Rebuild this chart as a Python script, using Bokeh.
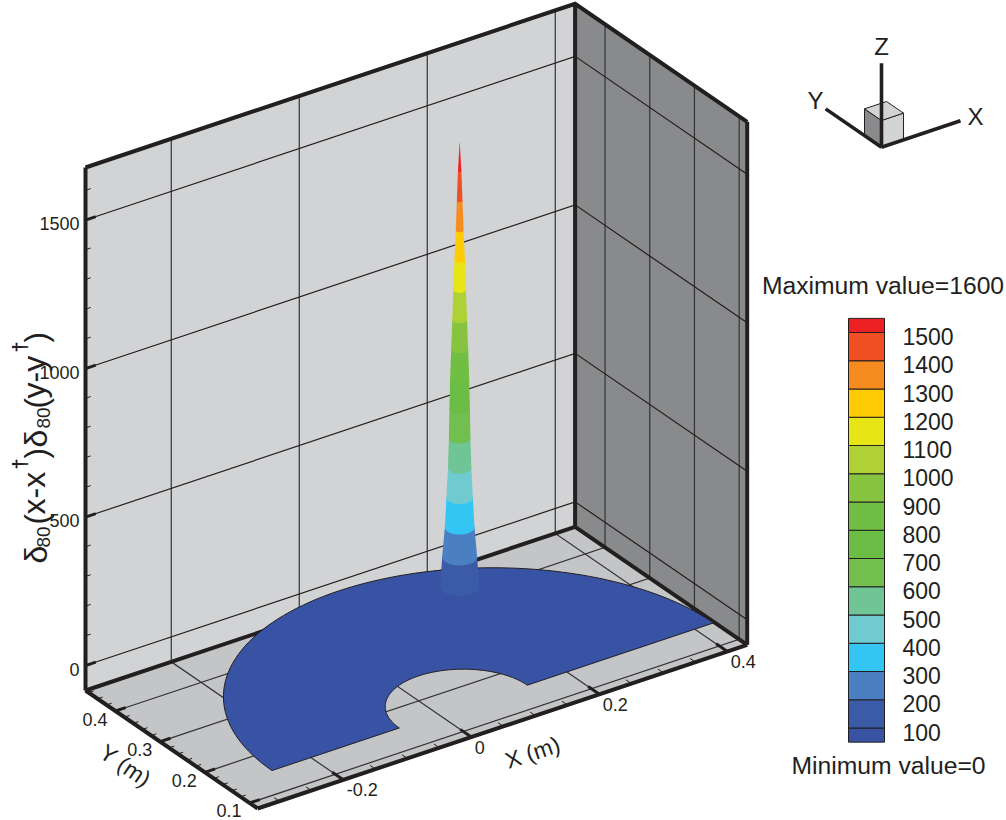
import math
from bokeh.plotting import figure
from bokeh.models import Range1d
from bokeh.core.properties import value
from bokeh.embed import file_html
from bokeh.resources import INLINE

# ---- axis ranges and ticks
x_lim = [-0.334, 0.431]
y_lim = [0.082, 0.467]
z_lim = [-84.0, 1677.0]
x_major = [-0.2, 0.0, 0.2, 0.4]
x_major_labels = ["-0.2", "0", "0.2", "0.4"]
x_minor = [-0.3, -0.25, -0.15, -0.1, -0.05, 0.05, 0.1, 0.15, 0.25, 0.3, 0.35]
y_major = [0.1, 0.2, 0.3, 0.4]
y_major_labels = ["0.1", "0.2", "0.3", "0.4"]
y_minor = [0.12, 0.14, 0.16, 0.18, 0.22, 0.24, 0.26, 0.28, 0.32, 0.34, 0.36, 0.38, 0.42, 0.44, 0.46]
z_major = [0, 500, 1000, 1500]
z_major_labels = ["0", "500", "1000", "1500"]
z_minor = [100, 200, 300, 400, 600, 700, 800, 900, 1100, 1200, 1300, 1400, 1600]

# ---- the half-annulus carrying the field
outer_centre = [0.046, 0.10]
outer_radius = 0.345
inner_centre = [0.0, 0.10]
inner_radius = 0.10

# ---- the peak: contour level and radius of that contour
peak_xy = [0.134, 0.30]
spike_level = [100, 200, 300, 400, 500, 600, 700, 800, 900, 1000, 1100, 1200, 1300, 1400, 1500, 1600]
spike_radius = [0.0250, 0.0224, 0.0190, 0.0169, 0.0150, 0.0138, 0.0131, 0.0122, 0.0109, 0.0094,
                0.0081, 0.0067, 0.0050, 0.0036, 0.0022, 0.0]

# ---- contour legend
legend_edges = [50, 100, 200, 300, 400, 500, 600, 700, 800, 900, 1000, 1100, 1200, 1300, 1400, 1500, 1550]
legend_colors = ["#3853a4", "#3b5ba7", "#4a7fc1", "#33c5f4", "#6fcbd0", "#70c597", "#72bf4f", "#6cbd45",
                 "#70bf44", "#86c440", "#afd136", "#e7e516", "#ffcb05", "#f68b1f", "#f04e23", "#ed2024"]
legend_labels = [100, 200, 300, 400, 500, 600, 700, 800, 900, 1000, 1100, 1200, 1300, 1400, 1500]
max_text = "Maximum value=1600"
min_text = "Minimum value=0"

INK = "#231f20"
FONT = value("Liberation Sans")

# ---- orthographic view of the 3D box on the page
ORIGIN = (85.0, 690.0)
EX = (640.0, -214.0)
EY = (447.0, 306.5)
EZ = 0.297


def proj(x, y, z):
    u, v = x - x_lim[0], y_lim[1] - y
    return (ORIGIN[0] + u * EX[0] + v * EY[0],
            ORIGIN[1] + u * EX[1] + v * EY[1] - (z - z_lim[0]) * EZ)


def pline(points):
    pts = [proj(*q) for q in points]
    return [a for a, _ in pts], [b for _, b in pts]


def hull(points):
    pts = sorted(set(points))

    def half(seq):
        out = []
        for q in seq:
            while len(out) > 1 and ((out[-1][0] - out[-2][0]) * (q[1] - out[-2][1])
                                    - (out[-1][1] - out[-2][1]) * (q[0] - out[-2][0])) <= 0:
                out.pop()
            out.append(q)
        return out[:-1]
    return half(pts) + half(pts[::-1])


W, H = 1006, 820
p = figure(width=W, height=H, x_range=Range1d(0, W), y_range=Range1d(H, 0),
           toolbar_location=None, output_backend="svg", min_border=0,
           x_axis_location=None, y_axis_location=None, outline_line_color=None)
p.grid.visible = False
p.background_fill_color = "white"
p.border_fill_color = "white"

x0, x1 = x_lim
y0, y1 = y_lim
z0, z1 = z_lim


def face(points, color):
    a, b = pline(points)
    p.patch(a, b, fill_color=color, line_color=None)


def seg(points, color=INK, width=1.2):
    a, b = pline(points)
    p.line(a, b, line_color=color, line_width=width, line_cap="butt", line_join="miter")


face([(x0, y1, z0), (x1, y1, z0), (x1, y1, z1), (x0, y1, z1)], "#d1d3d4")
face([(x1, y1, z0), (x1, y0, z0), (x1, y0, z1), (x1, y1, z1)], "#898a8c")
face([(x0, y1, z0), (x1, y1, z0), (x1, y0, z0), (x0, y0, z0)], "#c4c5c7")

# grid
for xv in x_major:
    seg([(xv, y0, z0), (xv, y1, z0), (xv, y1, z1)], "#333335", 1.2)
for yv in y_major:
    seg([(x0, yv, z0), (x1, yv, z0), (x1, yv, z1)], "#333335", 1.2)
for zv in z_major:
    seg([(x0, y1, zv), (x1, y1, zv), (x1, y0, zv)], INK, 1.2)

# ticks
for xv in x_major:
    seg([(xv, y0, z0), (xv, y0 + 0.025, z0)], INK, 3)
for xv in x_minor:
    seg([(xv, y0, z0), (xv, y0 + 0.012, z0)], INK, 1)
for yv in y_major:
    seg([(x0, yv, z0), (x0 + 0.016, yv, z0)], INK, 3)
for yv in y_minor:
    seg([(x0, yv, z0), (x0 + 0.008, yv, z0)], INK, 1)
for zv in z_major:
    seg([(x0, y1, zv), (x0 + 0.016, y1, zv)], INK, 3)
for zv in z_minor:
    seg([(x0, y1, zv), (x0 + 0.008, y1, zv)], INK, 1)

# box edges
for edge in ([(x0, y0, z0), (x1, y0, z0)], [(x0, y0, z0), (x0, y1, z0)],
             [(x0, y1, z0), (x1, y1, z0)], [(x1, y1, z0), (x1, y0, z0)],
             [(x0, y1, z0), (x0, y1, z1)], [(x1, y1, z0), (x1, y1, z1)],
             [(x1, y0, z0), (x1, y0, z1)], [(x0, y1, z1), (x1, y1, z1), (x1, y0, z1)]):
    seg(edge, INK, 4)

# half-annulus at z = 0
N = 90
ring = [(outer_centre[0] + outer_radius * math.cos(math.pi * i / N),
         outer_centre[1] + outer_radius * math.sin(math.pi * i / N), 0.0) for i in range(N + 1)]
ring += [(inner_centre[0] + inner_radius * math.cos(math.pi * (N - i) / N),
          inner_centre[1] + inner_radius * math.sin(math.pi * (N - i) / N), 0.0) for i in range(N + 1)]
a, b = pline(ring)
p.patch(a, b, fill_color=legend_colors[0], line_color=INK, line_width=1)

# peak, painted band by band from the bottom
for i in range(len(spike_level) - 1):
    pts = []
    for lev, rad in ((spike_level[i], spike_radius[i]), (spike_level[i + 1], spike_radius[i + 1])):
        for k in range(48):
            t = 2 * math.pi * k / 48
            pts.append(proj(peak_xy[0] + rad * math.cos(t), peak_xy[1] + rad * math.sin(t), lev))
    h = hull(pts)
    p.patch([q[0] for q in h], [q[1] for q in h], fill_color=legend_colors[i + 1], line_color=None)


def label(x, y, s, size, align="left", base="middle", angle=0.0, family=FONT, style="normal"):
    p.text([x], [y], text=[s], text_font=family, text_font_size=f"{size}px", text_color=INK,
           text_align=align, text_baseline=base, angle=angle, text_font_style=style)


# tick labels
for zv, s in zip(z_major, z_major_labels):
    sx, sy = proj(x0, y1, zv)
    label(sx - 6, sy + 3.5, s, 18, "right")
for xv, s in zip(x_major, x_major_labels):
    sx, sy = proj(xv, y0, z0)
    label(sx + 3.5, sy + 10, s, 18, "left")
for yv, s in zip(y_major, y_major_labels):
    sx, sy = proj(x0, yv, z0)
    label(sx - 8, sy + 8, s, 18, "right")

# axis titles
ang_x = math.atan2(-EX[1], EX[0])
ang_y = -math.atan2(EY[1], EY[0])
label(*proj(0.0405, 0.0032, z0), "X (m)", 23, "center", "middle", ang_x)
label(*proj(x0 - 0.0729, 0.273, z0), "Y (m)", 23, "center", "middle", ang_y)

# Z title, built up along the page
V = math.pi / 2
for yy, xx, s, size in ((563, 35, "δ", 32), (547, 43, "80", 19), (524, 36, "(", 31), (514, 33, "x-x", 32),
                        (458, 36, ")", 31), (447, 35, "δ", 32), (428, 43, "80", 19),
                        (408, 36, "(", 31), (398, 33, "y-y", 32), (342, 36, ")", 31)):
    label(xx, yy, s, size, "left", "alphabetic", V)
for yy in (469, 352):
    label(19, yy, "†", 20, "left", "alphabetic", V, style="bold")

# orientation triad, same view as the box
TRI = (881.0, 146.7)


def tri(x, y, z):
    return TRI[0] + x * EX[0] - y * EY[0], TRI[1] + x * EX[1] - y * EY[1] - z


def tri_patch(points, color):
    pts = [tri(*q) for q in points]
    p.patch([q[0] for q in pts], [q[1] for q in pts], fill_color=color, line_color=INK, line_width=1)


cx, cy, cz = 0.0344, 0.038, 26.7
tri_patch([(0, 0, 0), (cx, 0, 0), (cx, 0, cz), (0, 0, cz)], "#d1d3d4")
tri_patch([(0, 0, 0), (0, cy, 0), (0, cy, cz), (0, 0, cz)], "#898a8c")
tri_patch([(0, 0, cz), (cx, 0, cz), (cx, cy, cz), (0, cy, cz)], "#d1d3d4")
for end in ((0.1234, 0, 0), (0, 0.125, 0), (0, 0, 84)):
    e = tri(*end)
    p.line([TRI[0], e[0]], [TRI[1], e[1]], line_color=INK, line_width=3.6)
label(881, 46, "Z", 24, "center")
label(815, 100, "Y", 24, "center")
label(975, 116, "X", 24, "center")

# legend on its own value scale
SCALE = 0.2825
p.extra_y_ranges = {"legend": Range1d(100 + (727.5 - H) / SCALE, 100 + (727.5 - 0) / SCALE)}
p.quad(left=[848] * 16, right=[884] * 16, bottom=legend_edges[:-1], top=legend_edges[1:],
       fill_color=legend_colors, line_color=INK, line_width=1, y_range_name="legend")
p.text([902] * 15, legend_labels, text=[str(v) for v in legend_labels], y_range_name="legend",
       text_font=FONT, text_font_size="23px", text_color=INK, text_align="left",
       text_baseline="middle", y_offset=4)
label(882.5, 285, max_text, 24.7, "center")
label(888, 765, min_text, 24.7, "center")

open("out.html", "w").write(file_html(p, INLINE))
